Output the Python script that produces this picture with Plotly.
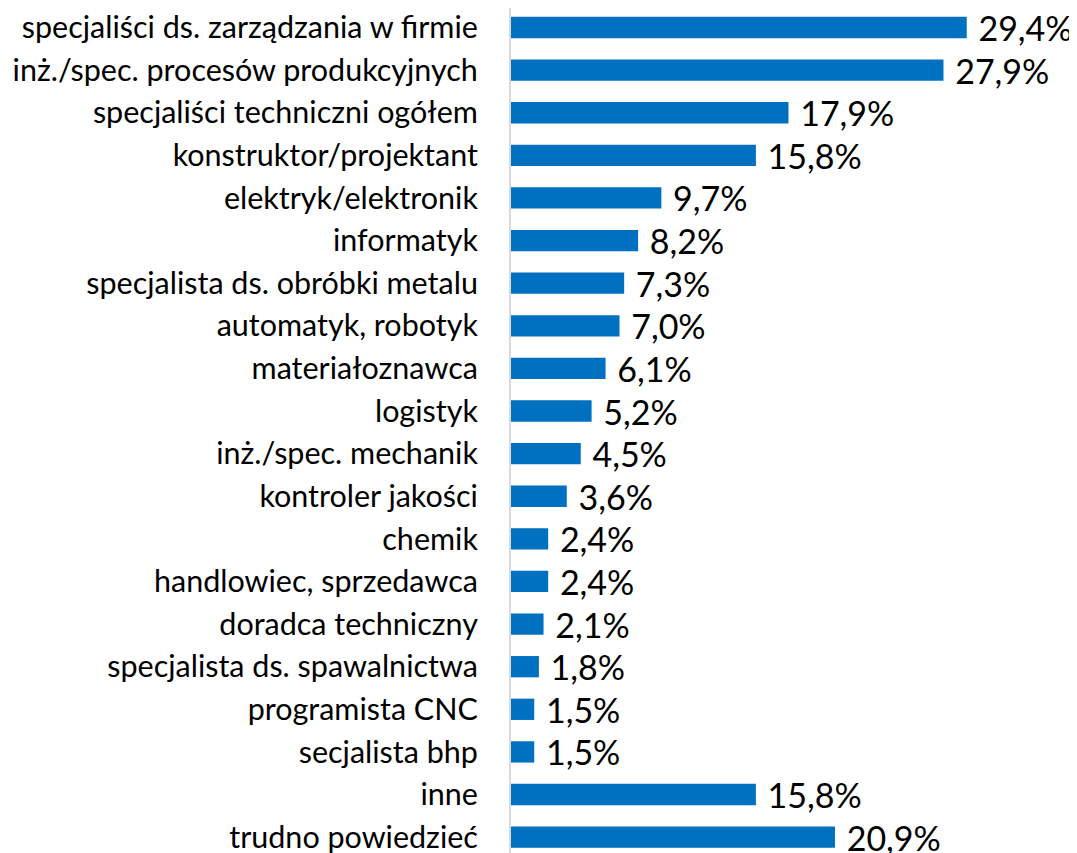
import plotly.graph_objects as go

categories = [
    "specjaliści ds. zarządzania w firmie",
    "inż./spec. procesów produkcyjnych",
    "specjaliści techniczni ogółem",
    "konstruktor/projektant",
    "elektryk/elektronik",
    "informatyk",
    "specjalista ds. obróbki metalu",
    "automatyk, robotyk",
    "materiałoznawca",
    "logistyk",
    "inż./spec. mechanik",
    "kontroler jakości",
    "chemik",
    "handlowiec, sprzedawca",
    "doradca techniczny",
    "specjalista ds. spawalnictwa",
    "programista CNC",
    "secjalista bhp",
    "inne",
    "trudno powiedzieć",
]
values = [29.4, 27.9, 17.9, 15.8, 9.7, 8.2, 7.3, 7.0, 6.1, 5.2, 4.5, 3.6, 2.4, 2.4, 2.1, 1.8, 1.5, 1.5, 15.8, 20.9]
labels = ["\u00a0" + f"{v:.1f}".replace(".", ",") + "%" for v in values]

fig = go.Figure(go.Bar(
    x=values,
    y=categories,
    orientation="h",
    marker=dict(color="#0070C0", line=dict(width=0)),
    text=labels,
    textposition="outside",
    constraintext="none",
    textfont=dict(family="Lato", size=34, color="#000000"),
    cliponaxis=False,
))

fig.update_layout(
    width=1077,
    height=853,
    margin=dict(l=503, r=0, t=0, b=0, autoexpand=False),
    paper_bgcolor="white",
    plot_bgcolor="white",
    bargap=0.5,
    showlegend=False,
    xaxis=dict(range=[0, 37.03], visible=False, showgrid=False, zeroline=False, automargin=False),
    yaxis=dict(
        range=[19.56, -0.458],
        showgrid=False,
        zeroline=False,
        showline=True,
        linecolor="#D9D9D9",
        linewidth=2,
        ticks="",
        ticklabelstandoff=25,
        automargin=False,
        tickfont=dict(family="Lato", size=30.5, color="#000000"),
    ),
)

fig.write_html("out.html")
